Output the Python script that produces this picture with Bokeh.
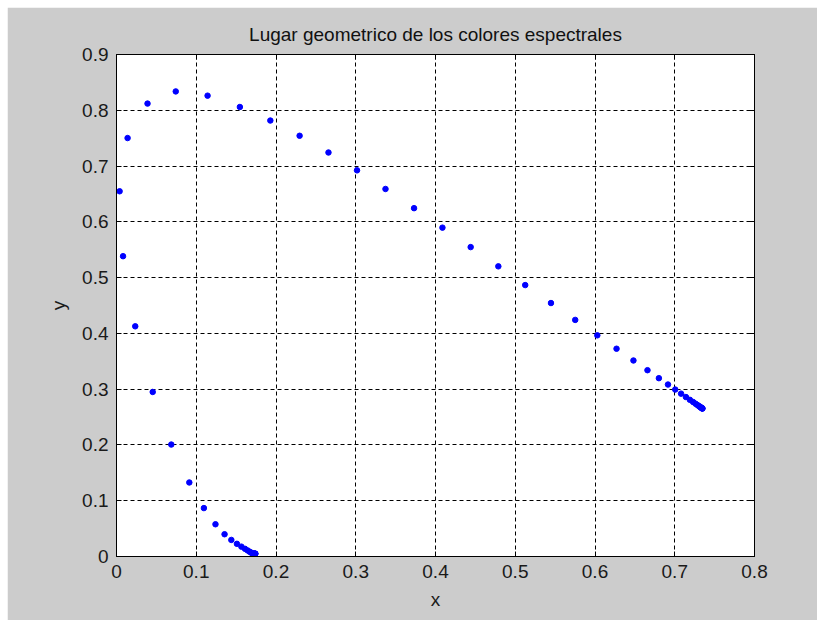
from bokeh.plotting import figure
from bokeh.models import LinearAxis, Range1d, FixedTicker, ColumnDataSource
from bokeh.embed import file_html
from bokeh.resources import INLINE

# Spectral locus chromaticity coordinates
x_vals = [0.1741, 0.1740, 0.1738, 0.1736, 0.1733, 0.1730, 0.1726, 0.1721, 0.1714, 0.1703,
          0.1689, 0.1669, 0.1644, 0.1611, 0.1566, 0.1510, 0.1440, 0.1355, 0.1241, 0.1096,
          0.0913, 0.0687, 0.0454, 0.0235, 0.0082, 0.0039, 0.0139, 0.0389, 0.0743, 0.1142,
          0.1547, 0.1929, 0.2296, 0.2658, 0.3016, 0.3373, 0.3731, 0.4087, 0.4441, 0.4788,
          0.5125, 0.5448, 0.5752, 0.6029, 0.6270, 0.6482, 0.6658, 0.6801, 0.6915, 0.7006,
          0.7079, 0.7140, 0.7190, 0.7230, 0.7260, 0.7283, 0.7300, 0.7311, 0.7320, 0.7327,
          0.7334, 0.7340, 0.7344, 0.7346, 0.7347]
y_vals = [0.0050, 0.0050, 0.0049, 0.0049, 0.0048, 0.0048, 0.0048, 0.0048, 0.0051, 0.0058,
          0.0069, 0.0086, 0.0109, 0.0138, 0.0177, 0.0227, 0.0297, 0.0399, 0.0578, 0.0868,
          0.1327, 0.2007, 0.2950, 0.4127, 0.5384, 0.6548, 0.7502, 0.8120, 0.8338, 0.8262,
          0.8059, 0.7816, 0.7543, 0.7243, 0.6923, 0.6589, 0.6245, 0.5896, 0.5547, 0.5202,
          0.4866, 0.4544, 0.4242, 0.3965, 0.3725, 0.3514, 0.3340, 0.3197, 0.3083, 0.2993,
          0.2920, 0.2859, 0.2809, 0.2770, 0.2740, 0.2717, 0.2700, 0.2689, 0.2680, 0.2673,
          0.2666, 0.2660, 0.2656, 0.2654, 0.2653]

x_ticks = [0, 0.1, 0.2, 0.3, 0.4, 0.5, 0.6, 0.7, 0.8]
y_ticks = [0, 0.1, 0.2, 0.3, 0.4, 0.5, 0.6, 0.7, 0.8, 0.9]
x_tick_labels = ["0", "0.1", "0.2", "0.3", "0.4", "0.5", "0.6", "0.7", "0.8"]
y_tick_labels = ["0", "0.1", "0.2", "0.3", "0.4", "0.5", "0.6", "0.7", "0.8", "0.9"]

title_text = "Lugar geometrico de los colores espectrales"
x_label = "x"
y_label = "y"

FONT = "Liberation Sans"
BG = "#cccccc"

p = figure(width=810, height=613, output_backend="svg", toolbar_location=None,
           x_range=Range1d(0, 0.8), y_range=Range1d(0, 0.9),
           x_axis_location=None, y_axis_location=None,
           min_border_left=109, min_border_right=63, min_border_top=47, min_border_bottom=64,
           frame_width=638, frame_height=502)
p.margin = (7, 2, 0, 7)
p.background_fill_color = "white"
p.border_fill_color = BG
p.outline_line_color = "black"
p.outline_line_width = 1

p.title.text = title_text
p.title.align = "center"
p.title.text_font = FONT
p.title.text_font_size = "19px"
p.title.text_font_style = "normal"
p.title.text_color = "#111111"
p.title.standoff = 19

def style_axis(ax, ticks, labels, show_labels):
    ax.ticker = FixedTicker(ticks=ticks)
    ax.major_label_overrides = {t: (l if show_labels else "") for t, l in zip(ticks, labels)}
    ax.major_tick_in = 5
    ax.major_tick_out = 0
    ax.minor_tick_in = 0
    ax.minor_tick_out = 0
    ax.axis_line_color = "black"
    ax.major_tick_line_color = "black"
    ax.major_label_text_font = FONT
    ax.major_label_text_font_size = "19px"
    ax.major_label_text_color = "#1a1a1a"
    ax.axis_label_text_font = FONT
    ax.axis_label_text_font_size = "19px"
    ax.axis_label_text_font_style = "normal"
    ax.axis_label_text_color = "#1a1a1a"

xb = LinearAxis(axis_label=x_label)
style_axis(xb, x_ticks, x_tick_labels, True)
xb.major_label_standoff = 8
xb.axis_label_standoff = 8
p.add_layout(xb, "below")

yl = LinearAxis(axis_label=y_label)
style_axis(yl, y_ticks, y_tick_labels, True)
yl.major_label_standoff = 8
yl.axis_label_standoff = 10
p.add_layout(yl, "left")

xt = LinearAxis()
style_axis(xt, x_ticks, x_tick_labels, False)
p.add_layout(xt, "above")

yr = LinearAxis()
style_axis(yr, y_ticks, y_tick_labels, False)
p.add_layout(yr, "right")

p.xgrid.ticker = FixedTicker(ticks=x_ticks)
p.ygrid.ticker = FixedTicker(ticks=y_ticks)
for g in (p.xgrid, p.ygrid):
    g.grid_line_color = "black"
    g.grid_line_dash = "4 3"
    g.grid_line_width = 1

src = ColumnDataSource(dict(x=x_vals, y=y_vals))
p.scatter("x", "y", source=src, size=5.5, fill_color="#0000ff", line_color="#0000ff")

open("out.html", "w").write(file_html(p, INLINE))
